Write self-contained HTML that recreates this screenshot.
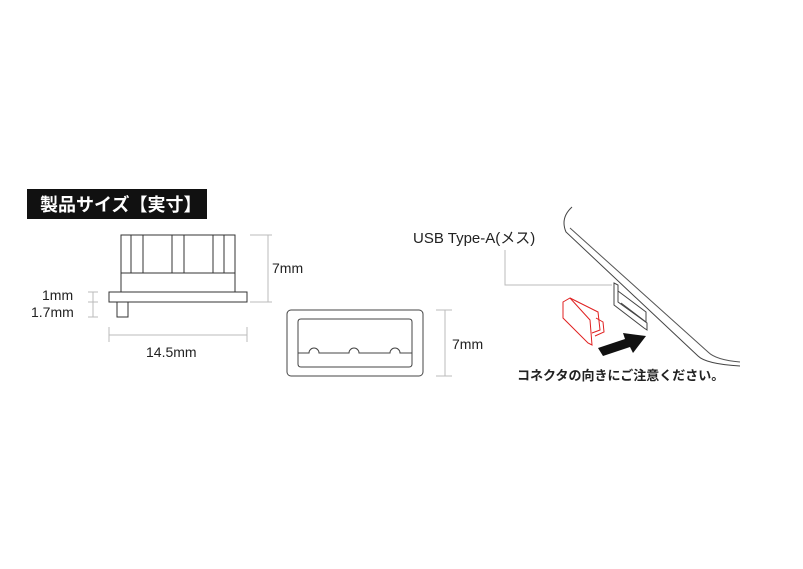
<!DOCTYPE html>
<html><head><meta charset="utf-8"><style>
body{margin:0;width:803px;height:569px;background:#fff;overflow:hidden;font-family:"Liberation Sans","Noto Sans CJK JP",sans-serif}
svg{position:absolute;left:0;top:0}
</style></head><body>
<svg width="803" height="569" viewBox="0 0 803 569">
<rect x="27" y="189" width="180" height="30" fill="#111"/>
<text x="40" y="211" font-size="18" font-weight="bold" fill="#fff" font-family="Noto Sans CJK JP,sans-serif">製品サイズ【実寸】</text>
<g fill="none" stroke="#333" stroke-width="1">
<rect x="121" y="235" width="114" height="38"/>
<rect x="131" y="235" width="12" height="38"/>
<rect x="172" y="235" width="12" height="38"/>
<rect x="213" y="235" width="11" height="38"/>
<rect x="121" y="273" width="114" height="19"/>
<rect x="109" y="292" width="138" height="10"/>
<rect x="117" y="302" width="11" height="15"/>
</g>
<g stroke="#bbb" stroke-width="1" fill="none">
<path d="M250 235H272M268 235V302M250 302H272"/>
<path d="M88 292H98M93 292V317M88 317H98M88 302H98"/>
<path d="M109 327V342M247 327V342M109 335H247"/>
<path d="M436 310H452M445 310V376M436 376H452"/>
<path d="M505 250V285H612"/>
</g>
<g font-size="14" fill="#222">
<text x="272" y="273">7mm</text>
<text x="42" y="300">1mm</text>
<text x="31" y="317">1.7mm</text>
<text x="146" y="357">14.5mm</text>
<text x="452" y="349">7mm</text>
<text x="413" y="243" font-size="15" font-family="Liberation Sans,Noto Sans CJK JP,sans-serif">USB Type-A(メス)</text>
<text x="517" y="380" font-size="13" font-weight="bold" font-family="Noto Sans CJK JP,sans-serif">コネクタの向きにご注意ください。</text>
</g>
<g fill="none" stroke="#444" stroke-width="1">
<rect x="287" y="310" width="136" height="66" rx="4"/>
<path d="M298 353V364Q298 367 301 367H409Q412 367 412 364V322Q412 319 409 319H301Q298 319 298 322V353H309A5 5 0 0 1 319 353H349A5 5 0 0 1 359 353H390A5 5 0 0 1 400 353H412"/>
<path d="M572 207Q560 218 566 232L698 356Q706 364 740 366"/>
<path d="M570 228L708 352Q716 360 740 362" stroke="#555"/>
<path d="M614 283L618 285V302L647 323V330L644 328L614 305Z"/>
<path d="M618 291L646 312V322L621 303"/>
</g>
<g fill="none" stroke="#e02020" stroke-width="1">
<path d="M563 302L570 298L590 320L592 345L588 343L563 318Z"/>
<path d="M570 298L598 312L600 330L592 333"/>
<path d="M596 318L603 322L604 332L595 336"/>
</g>
<path d="M598 348L625 339L623 333L646 336L633 353L630 347L603 356Z" fill="#111"/>
</svg>
</body></html>
